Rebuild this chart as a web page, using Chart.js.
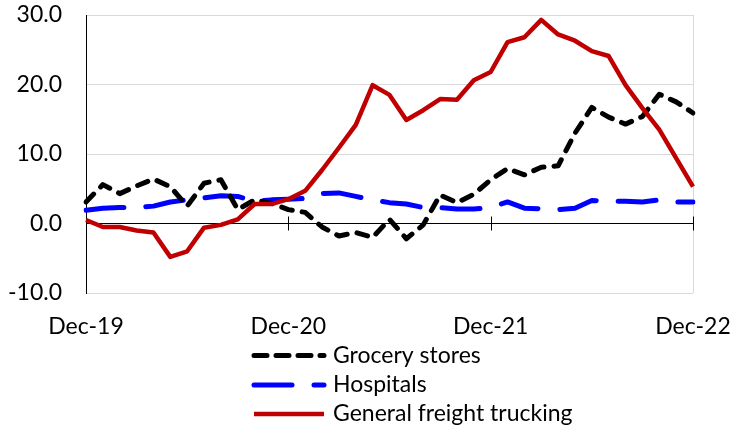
<!DOCTYPE html>
<html>
<head>
<meta charset="utf-8">
<script src="https://cdn.jsdelivr.net/npm/chart.js@4/dist/chart.umd.min.js"></script>
<style>
  html, body { margin: 0; padding: 0; background: #fff; }
  #wrap { width: 739px; height: 429px; position: relative; }
</style>
</head>
<body>
<div id="wrap"><canvas id="c" width="739" height="429"></canvas></div>
<script>
// Monthly year-over-year change (%), Dec 2019 – Dec 2022
const months = [
  'Dec-19','Jan-20','Feb-20','Mar-20','Apr-20','May-20','Jun-20','Jul-20','Aug-20','Sep-20','Oct-20','Nov-20',
  'Dec-20','Jan-21','Feb-21','Mar-21','Apr-21','May-21','Jun-21','Jul-21','Aug-21','Sep-21','Oct-21','Nov-21',
  'Dec-21','Jan-22','Feb-22','Mar-22','Apr-22','May-22','Jun-22','Jul-22','Aug-22','Sep-22','Oct-22','Nov-22',
  'Dec-22'
];
const xTickLabels = ['Dec-19', 'Dec-20', 'Dec-21', 'Dec-22'];
const yTicks = [-10, 0, 10, 20, 30];

const grocery = [3.1, 5.6, 4.3, 5.4, 6.4, 5.3, 2.5, 5.8, 6.3, 2.0, 3.4, 2.9,
                 2.0, 1.6, -0.5, -1.8, -1.3, -2.0, 0.6, -2.2, -0.2, 4.1, 3.0, 4.2,
                 6.3, 7.9, 7.0, 8.1, 8.3, 13.0, 16.7, 15.3, 14.3, 15.4, 18.6, 17.5,
                 15.9];
const hospitals = [1.9, 2.2, 2.3, 2.3, 2.5, 3.1, 3.4, 3.7, 4.0, 3.9, 3.2, 3.4,
                   3.5, 3.6, 4.3, 4.4, 3.9, 3.4, 3.0, 2.8, 2.3, 2.3, 2.1, 2.1,
                   2.3, 3.1, 2.2, 2.1, 2.0, 2.2, 3.3, 3.2, 3.2, 3.1, 3.4, 3.1,
                   3.1];
const trucking = [0.5, -0.5, -0.5, -1.0, -1.3, -4.8, -4.0, -0.6, -0.2, 0.6, 2.8, 2.8,
                  3.5, 4.7, 7.7, 10.9, 14.2, 19.9, 18.5, 14.9, 16.3, 17.9, 17.8, 20.6,
                  21.8, 26.1, 26.8, 29.3, 27.2, 26.3, 24.8, 24.1, 19.9, 16.6, 13.5, 9.4,
                  5.3];

const FONT = 'Lato, "Open Sans", sans-serif';
const FONT_SIZE = 23;

// Axis decorations: gray right edge of the plot and cross ticks on the zero line
const axisDecor = {
  id: 'axisDecor',
  beforeDatasetsDraw(chart) {
    const { ctx, chartArea: a, scales: { x, y } } = chart;
    ctx.save();
    ctx.strokeStyle = '#d9d9d9';
    ctx.lineWidth = 1;
    ctx.beginPath();
    ctx.moveTo(Math.round(a.right) + 0.5, a.top);
    ctx.lineTo(Math.round(a.right) + 0.5, a.bottom);
    ctx.stroke();
    const y0 = y.getPixelForValue(0);
    ctx.strokeStyle = '#000';
    ctx.beginPath();
    months.forEach((m, i) => {
      if (i > 0 && i % 12 === 0) {
        const px = Math.round(x.getPixelForValue(i)) + 0.5;
        ctx.moveTo(px, y0 - 7);
        ctx.lineTo(px, y0 + 7);
      }
    });
    ctx.stroke();
    ctx.restore();
  }
};

// Stacked legend below the plot
const stackedLegend = {
  id: 'stackedLegend',
  afterDraw(chart) {
    const { ctx } = chart;
    const x0 = 254, x1 = 324, textX = 333;
    const rows = [355.5, 385, 414];
    ctx.save();
    chart.data.datasets.forEach((ds, i) => {
      const yy = rows[i];
      ctx.strokeStyle = ds.borderColor;
      ctx.lineWidth = ds.borderWidth;
      ctx.lineCap = ds.borderCapStyle || 'butt';
      ctx.setLineDash(ds.legendDash || []);
      ctx.beginPath();
      ctx.moveTo(x0, yy);
      ctx.lineTo(x1, yy);
      ctx.stroke();
      ctx.setLineDash([]);
      ctx.fillStyle = '#000';
      ctx.font = FONT_SIZE + 'px ' + FONT;
      ctx.textBaseline = 'middle';
      ctx.textAlign = 'left';
      ctx.fillText(ds.label, textX, yy);
    });
    ctx.restore();
  }
};

new Chart(document.getElementById('c'), {
  type: 'line',
  data: {
    labels: months,
    datasets: [
      {
        label: 'Grocery stores',
        data: grocery,
        order: 2,
        borderColor: '#000000',
        borderWidth: 5,
        borderDash: [11, 10],
        legendDash: [13, 9],
        borderCapStyle: 'round',
        borderJoinStyle: 'round',
        pointRadius: 0,
        tension: 0
      },
      {
        label: 'Hospitals',
        data: hospitals,
        order: 3,
        borderColor: '#0000ff',
        borderWidth: 5,
        borderDash: [38, 22],
        legendDash: [38, 22],
        borderCapStyle: 'round',
        borderJoinStyle: 'round',
        pointRadius: 0,
        tension: 0
      },
      {
        label: 'General freight trucking',
        data: trucking,
        order: 1,
        borderColor: '#c00000',
        borderWidth: 4.5,
        borderCapStyle: 'butt',
        borderJoinStyle: 'round',
        pointRadius: 0,
        tension: 0
      }
    ]
  },
  options: {
    responsive: false,
    animation: false,
    devicePixelRatio: 1,
    layout: { padding: { left: 0, right: 46, top: 15, bottom: 91 } },
    plugins: {
      legend: { display: false },
      tooltip: { enabled: false }
    },
    scales: {
      x: {
        type: 'category',
        grid: { display: false, drawTicks: false },
        border: { display: false },
        ticks: {
          autoSkip: false,
          maxRotation: 0,
          minRotation: 0,
          padding: 20,
          color: '#000',
          font: { family: FONT, size: FONT_SIZE },
          callback: (v, i) => (i % 12 === 0 ? xTickLabels[i / 12] : null)
        },
        afterFit: s => {
          s.height = 45;
          s.paddingLeft = 0; s.paddingRight = 0;
          s.paddingTop = 0; s.paddingBottom = 0;
        }
      },
      y: {
        min: yTicks[0],
        max: yTicks[yTicks.length - 1],
        grid: {
          drawTicks: false,
          lineWidth: 1,
          color: c => (c.tick && c.tick.value === 0 ? '#000000' : '#d9d9d9')
        },
        border: { display: true, color: '#000', width: 1 },
        afterBuildTicks: s => { s.ticks = yTicks.map(v => ({ value: v })); },
        ticks: {
          padding: 24,
          color: '#000',
          font: { family: FONT, size: FONT_SIZE },
          callback: v => Number(v).toFixed(1)
        },
        afterFit: s => {
          s.width = 86;
          s.paddingLeft = 0; s.paddingRight = 0;
          s.paddingTop = 0; s.paddingBottom = 0;
        }
      }
    }
  },
  plugins: [axisDecor, stackedLegend]
});
</script>
</body>
</html>
